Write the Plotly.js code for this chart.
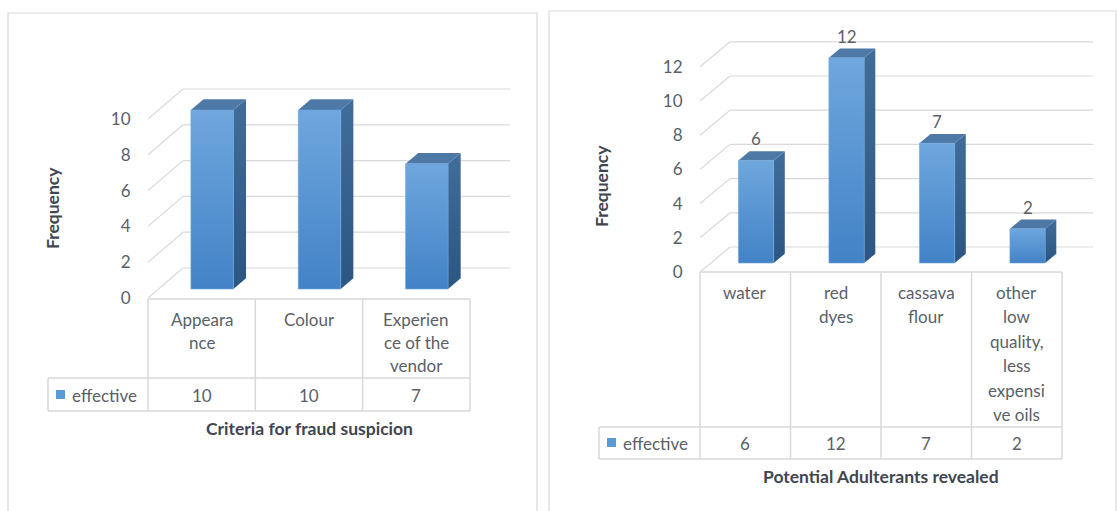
<!DOCTYPE html>
<html><head><meta charset="utf-8">
<script src="https://cdn.plot.ly/plotly-3.0.1.min.js"></script>
<style>html,body{margin:0;padding:0;background:#fff}#chart{width:1118px;height:511px}</style>
</head><body><div id="chart"></div>
<script>
// ---------------- data ----------------
const leftCategories = ['Appearance', 'Colour', 'Experience of the vendor'];
const leftCategoryLabels = ['Appeara<br>nce', 'Colour', 'Experien<br>ce of the<br>vendor'];
const leftValues = [10, 10, 7];
const leftTicks = [0, 2, 4, 6, 8, 10];
const leftTitle = 'Criteria for fraud suspicion';

const rightCategories = ['water', 'red dyes', 'cassava flour', 'other low quality, less expensive oils'];
const rightCategoryLabels = ['water', 'red<br>dyes', 'cassava<br>flour', 'other<br>low<br>quality,<br>less<br>expensi<br>ve oils'];
const rightValues = [6, 12, 7, 2];
const rightTicks = [0, 2, 4, 6, 8, 10, 12];
const rightTitle = 'Potential Adulterants revealed';

const seriesName = 'effective';
const yTitle = 'Frequency';

// ---------------- style / layout ----------------
const W = 1118, H = 511;
const px = x => x / W, py = y => 1 - y / H;
const FONT = 'Lato, "Liberation Sans", sans-serif';
const TXT = '#5A5F68', DARK = '#404650', GRID = '#D9D9D9';
const FS = 17;

const charts = [
  { cats: leftCategoryLabels, vals: leftValues, ticks: leftTicks, title: leftTitle, dataLabels: false,
    floorL: 148, floorR: 470, y0: 298, ppu: 17.9, DX: 35, DY: 30, d0: 0.3, d1: 0.66, bw: 0.396, backR: 510,
    box: { l: 148, r: 518, t: 20, b: 301 }, tableTop: 299, headBottom: 378, tableBottom: 411, legendL: 48,
    labelY: 319, lineH: 23, valueY: 395, titleY: 428, freqX: 52, freqY: 208,
    panel: { l: 8, r: 537, t: 13, b: 530 }, xa: 'x', ya: 'y' },
  { cats: rightCategoryLabels, vals: rightValues, ticks: rightTicks, title: rightTitle, dataLabels: true,
    floorL: 700, floorR: 1062, y0: 272, ppu: 17.1, DX: 30, DY: 25, d0: 0.36, d1: 0.73, bw: 0.39, backR: 1093,
    box: { l: 700, r: 1100, t: 20, b: 274 }, tableTop: 272, headBottom: 427, tableBottom: 459, legendL: 599,
    labelY: 292, lineH: 24.5, valueY: 443, titleY: 476, freqX: 601, freqY: 186,
    panel: { l: 549, r: 1116, t: 11, b: 530 }, xa: 'x2', ya: 'y2' }
];

const traces = [], shapes = [], annotations = [];
const layout = {
  width: W, height: H, margin: { l: 0, r: 0, t: 0, b: 0 },
  paper_bgcolor: '#fff', plot_bgcolor: 'rgba(0,0,0,0)', showlegend: false,
  font: { family: FONT, color: TXT }
};

charts.forEach((c, ci) => {
  const n = c.vals.length;
  const colW = (c.floorR - c.floorL) / n;
  const xd = p => -0.5 + (p - c.floorL) / colW;
  const yd = p => (c.y0 - p) / c.ppu;
  const axX = ci === 0 ? 'xaxis' : 'xaxis2';
  const axY = ci === 0 ? 'yaxis' : 'yaxis2';
  layout[axX] = { domain: [px(c.box.l), px(c.box.r)], range: [xd(c.box.l), xd(c.box.r)],
    visible: false, fixedrange: true, anchor: c.ya };
  layout[axY] = { domain: [py(c.box.b), py(c.box.t)], range: [yd(c.box.b), yd(c.box.t)],
    tickvals: c.ticks, showgrid: false, zeroline: false, showline: false,
    ticks: 'outside', ticklen: 13, tickcolor: 'rgba(0,0,0,0)',
    tickfont: { family: FONT, size: FS, color: TXT }, fixedrange: true, anchor: c.xa };

  const fullDX = c.DX / colW, fullDY = c.DY / c.ppu;
  const xL = xd(c.floorL), xBackR = xd(c.backR);
  // gridlines (floor diagonal + back wall)
  c.ticks.forEach(t => {
    shapes.push({ type: 'line', xref: c.xa, yref: c.ya, x0: xL, y0: t, x1: xL + fullDX, y1: t + fullDY,
      line: { color: GRID, width: 1.2 }, layer: 'below' });
    shapes.push({ type: 'line', xref: c.xa, yref: c.ya, x0: xL + fullDX, y0: t + fullDY, x1: xBackR, y1: t + fullDY,
      line: { color: GRID, width: 1.2 }, layer: 'below' });
  });

  // 3D bars
  const s0x = c.d0 * c.DX / colW, s0y = c.d0 * c.DY / c.ppu;
  const s1x = c.d1 * c.DX / colW, s1y = c.d1 * c.DY / c.ppu;
  c.vals.forEach((v, i) => {
    const fl = i + s0x - c.bw / 2, fr = i + s0x + c.bw / 2;
    const bl = i + s1x - c.bw / 2, br = i + s1x + c.bw / 2;
    // side face
    traces.push({ type: 'scatter', mode: 'lines', xaxis: c.xa, yaxis: c.ya, hoverinfo: 'skip',
      x: [fr, fr, br, br, fr], y: [s0y, v + s0y, v + s1y, s1y, s0y], fill: 'toself',
      line: { width: 0, color: 'rgba(0,0,0,0)' },
      fillgradient: { type: 'vertical', colorscale: [[0, '#2B5582'], [1, '#416D9A']] } });
    // top face
    traces.push({ type: 'scatter', mode: 'lines', xaxis: c.xa, yaxis: c.ya, hoverinfo: 'skip',
      x: [fl, fr, br, bl, fl], y: [v + s0y, v + s0y, v + s1y, v + s1y, v + s0y], fill: 'toself',
      line: { width: 0, color: 'rgba(0,0,0,0)' }, fillcolor: '#4E79A6' });
    // front face
    traces.push({ type: 'scatter', mode: 'lines', xaxis: c.xa, yaxis: c.ya, hoverinfo: 'skip', name: seriesName,
      x: [fl, fr, fr, fl, fl], y: [s0y, s0y, v + s0y, v + s0y, s0y], fill: 'toself',
      line: { width: 0.6, color: '#6FA6DC' },
      fillgradient: { type: 'vertical', colorscale: [[0, '#4282C6'], [1, '#6FA7DE']] } });
    if (c.dataLabels) {
      annotations.push({ xref: c.xa, yref: c.ya, x: i + s0x, y: v + s1y, text: String(v), showarrow: false,
        yanchor: 'bottom', yshift: 0, font: { family: FONT, size: FS, color: TXT } });
    }
  });

  // data table
  const ln = { color: GRID, width: 1.5 };
  const hl = (x0, x1, y) => shapes.push({ type: 'line', xref: 'paper', yref: 'paper', x0: px(x0), x1: px(x1), y0: py(y), y1: py(y), line: ln });
  const vl = (x, y0, y1) => shapes.push({ type: 'line', xref: 'paper', yref: 'paper', x0: px(x), x1: px(x), y0: py(y0), y1: py(y1), line: ln });
  hl(c.floorL, c.floorR, c.tableTop);
  hl(c.legendL, c.floorR, c.headBottom);
  hl(c.legendL, c.floorR, c.tableBottom);
  vl(c.legendL, c.headBottom, c.tableBottom);
  for (let k = 0; k <= n; k++) vl(c.floorL + k * colW, c.tableTop, c.tableBottom);

  c.cats.forEach((lab, i) => {
    const cx = c.floorL + (i + 0.5) * colW;
    lab.split('<br>').forEach((line, j) => {
      annotations.push({ xref: 'paper', yref: 'paper', x: px(cx), y: py(c.labelY + j * c.lineH), text: line,
        showarrow: false, xanchor: 'center', yanchor: 'middle', font: { family: FONT, size: FS, color: TXT } });
    });
    annotations.push({ xref: 'paper', yref: 'paper', x: px(cx), y: py(c.valueY), text: String(c.vals[i]),
      showarrow: false, xanchor: 'center', yanchor: 'middle', font: { family: FONT, size: FS, color: TXT } });
  });
  // legend key in the table
  shapes.push({ type: 'rect', xref: 'paper', yref: 'paper', x0: px(c.legendL + 8), x1: px(c.legendL + 17),
    y0: py(c.valueY - 5), y1: py(c.valueY + 4), fillcolor: '#5B9BD5', line: { width: 0 } });
  annotations.push({ xref: 'paper', yref: 'paper', x: px(c.legendL + 22), y: py(c.valueY), text: seriesName,
    showarrow: false, xanchor: 'left', yanchor: 'middle', font: { family: FONT, size: FS, color: TXT } });

  // titles
  annotations.push({ xref: 'paper', yref: 'paper', x: px((c.floorL + c.floorR) / 2), y: py(c.titleY), text: '<b>' + c.title + '</b>',
    showarrow: false, xanchor: 'center', yanchor: 'middle', font: { family: FONT, size: 17.5, color: DARK } });
  annotations.push({ xref: 'paper', yref: 'paper', x: px(c.freqX), y: py(c.freqY), text: '<b>' + yTitle + '</b>', textangle: -90,
    showarrow: false, xanchor: 'center', yanchor: 'middle', font: { family: FONT, size: 17.5, color: DARK } });

  // panel border
  shapes.push({ type: 'rect', xref: 'paper', yref: 'paper', x0: px(c.panel.l), x1: px(c.panel.r), y0: py(c.panel.b), y1: py(c.panel.t),
    line: { color: '#D9D9D9', width: 1.2 }, fillcolor: 'rgba(0,0,0,0)', layer: 'below' });
});

layout.shapes = shapes;
layout.annotations = annotations;
Plotly.newPlot('chart', traces, layout, { displayModeBar: false, staticPlot: true });
</script>
</body></html>
